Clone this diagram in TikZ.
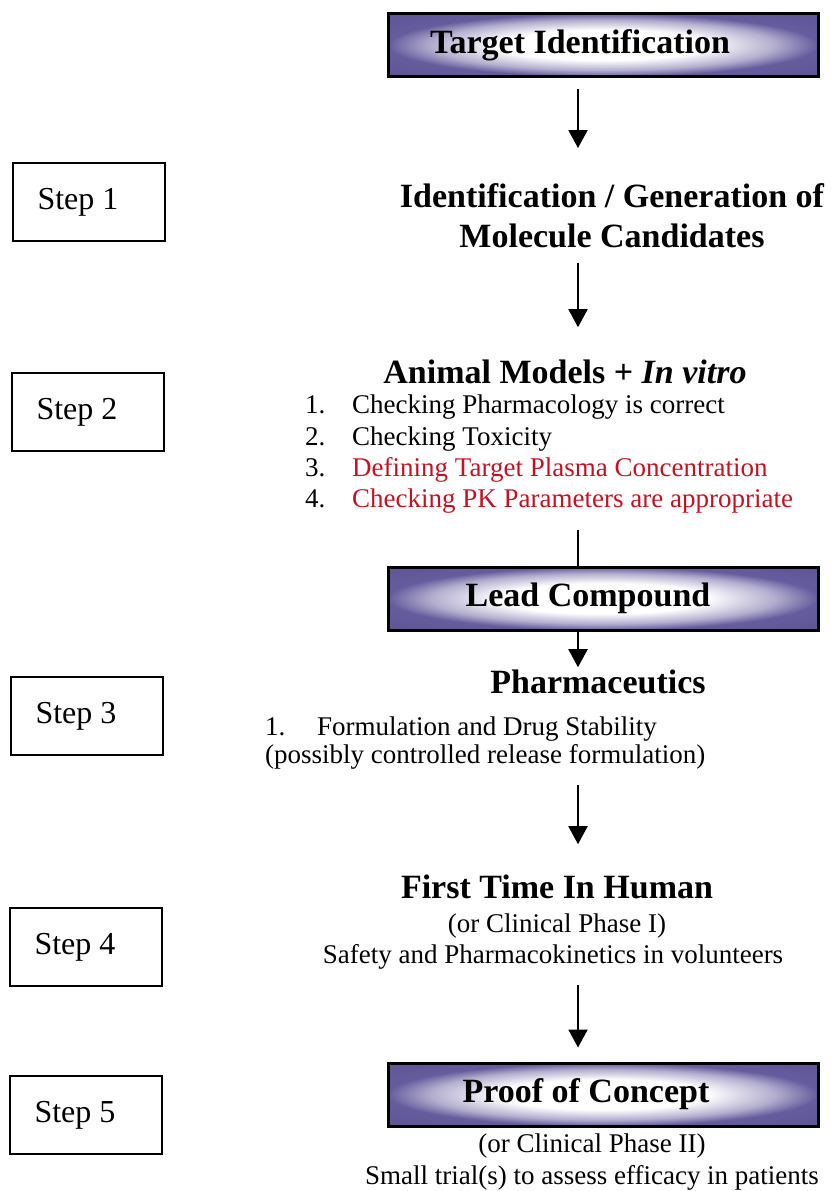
\documentclass[tikz,border=0pt]{standalone}
\usepackage{fontspec}
\setmainfont{Liberation Serif}
\usetikzlibrary{arrows.meta}

\definecolor{boxpurple}{RGB}{84,74,146}
\definecolor{itemred}{RGB}{200,16,32}
\pgfdeclareradialshading{boxglow}{\pgfpoint{0bp}{0bp}}{color(0bp)=(white); color(12bp)=(white); color(20bp)=(boxpurple!45!white); color(25bp)=(boxpurple!90!white); color(50bp)=(boxpurple)}

\tikzset{
  stepbox/.style={draw=black, line width=2pt, minimum width=152pt, minimum height=78pt, inner sep=0pt, font=\fontsize{32}{38}\selectfont},
  phasebox/.style={draw=black, line width=3pt, shade, shading=boxglow, minimum width=430pt, minimum height=63pt, inner sep=0pt, font=\bfseries\fontsize{34}{40}\selectfont},
  heading/.style={inner sep=0pt, align=center, font=\bfseries\fontsize{34}{40}\selectfont},
  body/.style={inner sep=0pt, font=\fontsize{27}{32}\selectfont},
  flow/.style={line width=2pt, -{Triangle[length=18pt,width=19pt]}},
}

\begin{document}
\begin{tikzpicture}[x=1pt,y=-1pt]
\useasboundingbox (0,0) rectangle (838,1191);

\coordinate (axis) at (578,0);

% steps on the left
\node[stepbox] (S1) at (89,202) {Step 1\hspace*{22pt}};
\node[stepbox] (S2) at (88,412) {Step 2\hspace*{22pt}};
\node[stepbox] (S3) at (87,716) {Step 3\hspace*{22pt}};
\node[stepbox] (S4) at (86,947) {Step 4\hspace*{22pt}};
\node[stepbox] (S5) at (86,1115) {Step 5\hspace*{22pt}};

% main column
\node[phasebox] (tgt) at (603,45) {Target Identification\hspace*{46pt}};
\node[heading,anchor=north] (idgen) at (612,183) {Identification / Generation of\\Molecule Candidates};

\node[heading,anchor=base] (anim) at (565,383) {Animal Models + \textit{In vitro}};
\node[body,anchor=base west] (n1) at (305,413) {1.};
\node[body,anchor=base west] (l1) at (352,413) {Checking Pharmacology is correct};
\node[body,anchor=base west] (n2) at (305,445) {2.};
\node[body,anchor=base west] (l2) at (352,445) {Checking Toxicity};
\node[body,anchor=base west] (n3) at (305,476) {3.};
\node[body,anchor=base west,text=itemred] (l3) at (352,476) {Defining Target Plasma Concentration};
\node[body,anchor=base west] (n4) at (305,507) {4.};
\node[body,anchor=base west,text=itemred] (l4) at (352,507) {Checking PK Parameters are appropriate};

\node[phasebox] (lead) at (603,598.5) {Lead Compound\hspace*{30pt}};

\node[heading,anchor=base] (pharm) at (598,693) {Pharmaceutics};
\node[body,anchor=base west] (fn1) at (265,735) {1.};
\node[body,anchor=base west] (form) at (317,735) {Formulation and Drug Stability};
\node[body,anchor=base west] (crel) at (265,763) {(possibly controlled release formulation)};

\node[heading,anchor=base] (ftih) at (557,898) {First Time In Human};
\node[body,anchor=base] (ph1) at (557,932) {(or Clinical Phase I)};
\node[body,anchor=base] (safe) at (553,963) {Safety and Pharmacokinetics in volunteers};

\node[phasebox] (poc) at (603,1094.5) {Proof of Concept\hspace*{34pt}};
\node[body,anchor=base] (ph2) at (592,1152) {(or Clinical Phase II)};
\node[body,anchor=base] (trial) at (592,1184) {Small trial(s) to assess efficacy in patients};

% connectors
\draw[flow,shorten <=11pt,shorten >=35pt] (tgt.south -| axis) -- (idgen.north -| axis);
\draw[flow,shorten <=15pt,shorten >=32pt] (idgen.south -| axis) -- (anim.north -| axis);
\draw[line width=2pt,shorten <=17pt] (l4.south -| axis) -- (lead.north -| axis);
\draw[flow,shorten >=2pt] (lead.south -| axis) -- (pharm.north -| axis);
\draw[flow,shorten <=16pt,shorten >=30pt] (crel.south -| axis) -- (ftih.north -| axis);
\draw[flow,shorten <=16pt,shorten >=14pt] (safe.south -| axis) -- (poc.north -| axis);

\end{tikzpicture}
\end{document}
